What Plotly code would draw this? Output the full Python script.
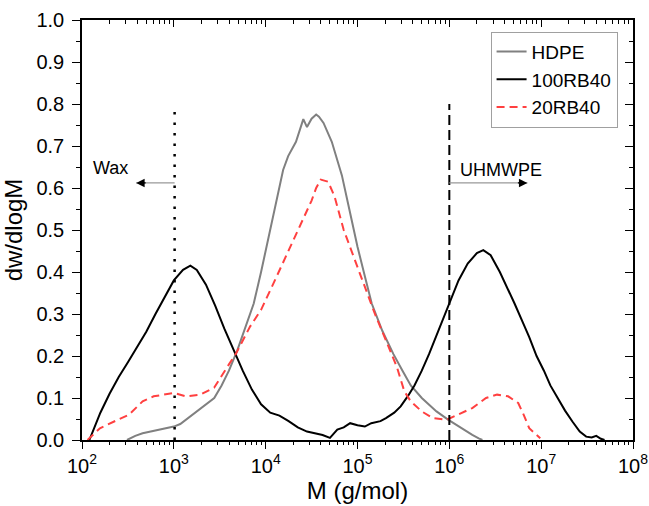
import math
import plotly.graph_objects as go

# ---- data (log10 M, dw/dlogM) ----
hdpe_logM = [2.49, 2.58, 2.66, 2.75, 2.82, 2.9, 3.0, 3.07, 3.13, 3.2, 3.29, 3.36, 3.44, 3.52, 3.6,
             3.69, 3.79, 3.87, 3.95, 4.05, 4.155, 4.19, 4.245, 4.33, 4.41, 4.45, 4.5, 4.55, 4.58,
             4.63, 4.72, 4.77, 4.83, 4.9, 5.0, 5.08, 5.155, 5.27, 5.39, 5.49, 5.58, 5.7, 5.86,
             5.99, 6.13, 6.25, 6.32, 6.36]
hdpe_w = [0.0, 0.01, 0.016, 0.02, 0.024, 0.026, 0.032, 0.038, 0.048, 0.06, 0.076, 0.086, 0.1, 0.13,
          0.165, 0.213, 0.277, 0.325, 0.4, 0.5, 0.613, 0.643, 0.676, 0.71, 0.764, 0.745, 0.765,
          0.775, 0.77, 0.755, 0.71, 0.674, 0.63, 0.56, 0.46, 0.39, 0.325, 0.26, 0.205, 0.165,
          0.13, 0.1, 0.068, 0.048, 0.028, 0.012, 0.004, 0.0]

rb100_logM = [2.08, 2.15, 2.2, 2.3, 2.4, 2.5, 2.6, 2.7, 2.8, 2.9, 3.0, 3.1, 3.18, 3.25, 3.35, 3.45,
              3.55, 3.65, 3.75, 3.85, 3.95, 4.05, 4.15, 4.25, 4.35, 4.45, 4.55, 4.62, 4.7, 4.78,
              4.85, 4.92, 5.0, 5.08, 5.15, 5.25, 5.31, 5.4, 5.47, 5.55, 5.62, 5.7, 5.78, 5.9, 6.0,
              6.1, 6.2, 6.3, 6.37, 6.45, 6.55, 6.65, 6.71, 6.8, 6.87, 6.95, 7.03, 7.1, 7.18, 7.26,
              7.34, 7.42, 7.49, 7.55, 7.6, 7.65, 7.69]
rb100_w = [0.0, 0.04, 0.065, 0.11, 0.15, 0.185, 0.22, 0.258, 0.3, 0.34, 0.38, 0.405, 0.415, 0.405,
           0.37, 0.32, 0.265, 0.215, 0.165, 0.12, 0.085, 0.065, 0.058, 0.045, 0.03, 0.02, 0.015,
           0.012, 0.005, 0.025, 0.03, 0.04, 0.035, 0.032, 0.04, 0.045, 0.052, 0.065, 0.08, 0.105,
           0.13, 0.165, 0.205, 0.27, 0.325, 0.38, 0.42, 0.445, 0.452, 0.44, 0.4, 0.355, 0.325,
           0.28, 0.245, 0.2, 0.165, 0.13, 0.1, 0.07, 0.044, 0.02, 0.008, 0.006, 0.01, 0.003, 0.0]

rb20_logM = [2.06, 2.195, 2.35, 2.51, 2.66, 2.78, 3.0, 3.13, 3.29, 3.44, 3.6, 3.675, 3.83, 3.95,
             4.1, 4.25, 4.4, 4.5, 4.55, 4.6, 4.68, 4.75, 4.85, 5.0, 5.1, 5.19, 5.31, 5.43, 5.51,
             5.58, 5.7, 5.82, 5.97, 6.09, 6.25, 6.4, 6.52, 6.64, 6.75, 6.81, 6.87, 6.99]
rb20_w = [0.0, 0.028, 0.044, 0.06, 0.092, 0.104, 0.112, 0.104, 0.108, 0.125, 0.18, 0.205, 0.27,
          0.31, 0.38, 0.45, 0.52, 0.57, 0.6, 0.62, 0.615, 0.58, 0.5, 0.41, 0.35, 0.3, 0.237,
          0.173, 0.116, 0.092, 0.068, 0.052, 0.048, 0.06, 0.076, 0.1, 0.108, 0.104, 0.088, 0.06,
          0.028, 0.004]

x_tick_exp = [2, 3, 4, 5, 6, 7, 8]
y_ticks = [0.0, 0.1, 0.2, 0.3, 0.4, 0.5, 0.6, 0.7, 0.8, 0.9, 1.0]

wax_M = 1020
uhmwpe_M = 1e6
marker_top = 0.8
arrow_y = 0.612
wax_head_log = 2.59
uh_head_log = 6.85

FONT = "Liberation Sans, Arial, sans-serif"

minor_vals = [m * 10 ** e for e in range(2, 8) for m in range(2, 10)]

fig = go.Figure()

fig.add_trace(go.Scatter(x=[10 ** v for v in hdpe_logM], y=hdpe_w, mode="lines", name="HDPE",
                         line=dict(color="#808080", width=2)))
fig.add_trace(go.Scatter(x=[10 ** v for v in rb100_logM], y=rb100_w, mode="lines", name="100RB40",
                         line=dict(color="black", width=2)))
fig.add_trace(go.Scatter(x=[10 ** v for v in rb20_logM], y=rb20_w, mode="lines", name="20RB40",
                         line=dict(color="#ff4040", width=2, dash="8px,5px")))

# boundary lines
fig.add_trace(go.Scatter(x=[wax_M, wax_M], y=[0, marker_top], mode="lines", showlegend=False,
                         line=dict(color="black", width=2.5, dash="2.5px,8px"), hoverinfo="skip"))
fig.add_trace(go.Scatter(x=[uhmwpe_M, uhmwpe_M], y=[0, marker_top], mode="lines", showlegend=False,
                         line=dict(color="black", width=2, dash="10px,5px"), hoverinfo="skip"))

# arrow shafts (gray)
fig.add_trace(go.Scatter(x=[wax_M, 10 ** wax_head_log], y=[arrow_y, arrow_y], mode="lines",
                         showlegend=False, line=dict(color="#999999", width=1.3), hoverinfo="skip"))
fig.add_trace(go.Scatter(x=[uhmwpe_M, 10 ** uh_head_log], y=[arrow_y, arrow_y], mode="lines",
                         showlegend=False, line=dict(color="#999999", width=1.3), hoverinfo="skip"))

# dummy traces for the mirror / minor-tick axes
for xa, ya in [("x2", "y2"), ("x3", "y"), ("x4", "y")]:
    fig.add_trace(go.Scatter(x=[100], y=[0], xaxis=xa, yaxis=ya, mode="lines", showlegend=False,
                             opacity=0, hoverinfo="skip"))

annotations = [
    dict(x=wax_head_log, y=arrow_y, xref="x", yref="y", ax=11, ay=0, text="",
         showarrow=True, arrowhead=2, arrowsize=1.3, arrowwidth=1.3, arrowcolor="black"),
    dict(x=uh_head_log, y=arrow_y, xref="x", yref="y", ax=-11, ay=0, text="",
         showarrow=True, arrowhead=2, arrowsize=1.3, arrowwidth=1.3, arrowcolor="black"),
    dict(x=2.307, y=0.648, xref="x", yref="y", text="Wax", showarrow=False,
         font=dict(family=FONT, size=18, color="black")),
    dict(x=6.564, y=0.643, xref="x", yref="y", text="UHMWPE", showarrow=False,
         font=dict(family=FONT, size=18, color="black")),
]

fig.update_layout(
    width=649, height=506,
    margin=dict(l=82, r=16, t=20, b=66),
    paper_bgcolor="white", plot_bgcolor="white",
    font=dict(family=FONT, size=20, color="black"),
    showlegend=True,
    legend=dict(x=0.972, y=0.972, xanchor="right", yanchor="top",
                bordercolor="#a0a0a0", borderwidth=1, bgcolor="white",
                font=dict(family=FONT, size=19), tracegroupgap=0),
    annotations=annotations,
    xaxis=dict(type="log", range=[2, 8], automargin=False,
               tickvals=[10 ** e for e in x_tick_exp],
               ticktext=["10<sup>%d</sup>" % e for e in x_tick_exp],
               ticks="outside", ticklen=7, tickwidth=1.3, tickcolor="black",
               showline=True, linecolor="black", linewidth=1.5, mirror=True,
               showgrid=False, zeroline=False,
               title=dict(text="M (g/mol)", font=dict(family=FONT, size=24), standoff=4),
               tickfont=dict(family=FONT, size=20)),
    yaxis=dict(range=[0, 1], tickvals=y_ticks, ticktext=["%.1f" % v for v in y_ticks],
               automargin=False,
               ticks="outside", ticklen=8, tickwidth=1.3, tickcolor="black",
               minor=dict(ticks="outside", ticklen=4, tickwidth=1.2, dtick=0.05, tickcolor="black",
                          showgrid=False),
               showline=True, linecolor="black", linewidth=1.5, mirror=True,
               showgrid=False, zeroline=False, ticklabelstandoff=4,
               title=dict(text="dw/dlogM", font=dict(family=FONT, size=24), standoff=10),
               tickfont=dict(family=FONT, size=20)),
    xaxis2=dict(type="log", range=[2, 8], overlaying="x", side="top", anchor="y",
                tickvals=[10 ** e for e in x_tick_exp], showticklabels=False,
                ticks="inside", ticklen=7, tickwidth=1.3, tickcolor="black",
                showgrid=False, zeroline=False, showline=False),
    xaxis3=dict(type="log", range=[2, 8], overlaying="x", side="bottom", anchor="y",
                tickvals=minor_vals, showticklabels=False,
                ticks="outside", ticklen=4, tickwidth=1.2, tickcolor="black",
                showgrid=False, zeroline=False, showline=False),
    xaxis4=dict(type="log", range=[2, 8], overlaying="x", side="top", anchor="y",
                tickvals=minor_vals, showticklabels=False,
                ticks="inside", ticklen=4, tickwidth=1.2, tickcolor="black",
                showgrid=False, zeroline=False, showline=False),
    yaxis2=dict(range=[0, 1], overlaying="y", side="right", anchor="x",
                tickvals=y_ticks, showticklabels=False,
                ticks="inside", ticklen=8, tickwidth=1.3, tickcolor="black",
                minor=dict(ticks="inside", ticklen=4, tickwidth=1.2, dtick=0.05, tickcolor="black",
                           showgrid=False),
                showgrid=False, zeroline=False, showline=False),
)

fig.write_html("out.html")
